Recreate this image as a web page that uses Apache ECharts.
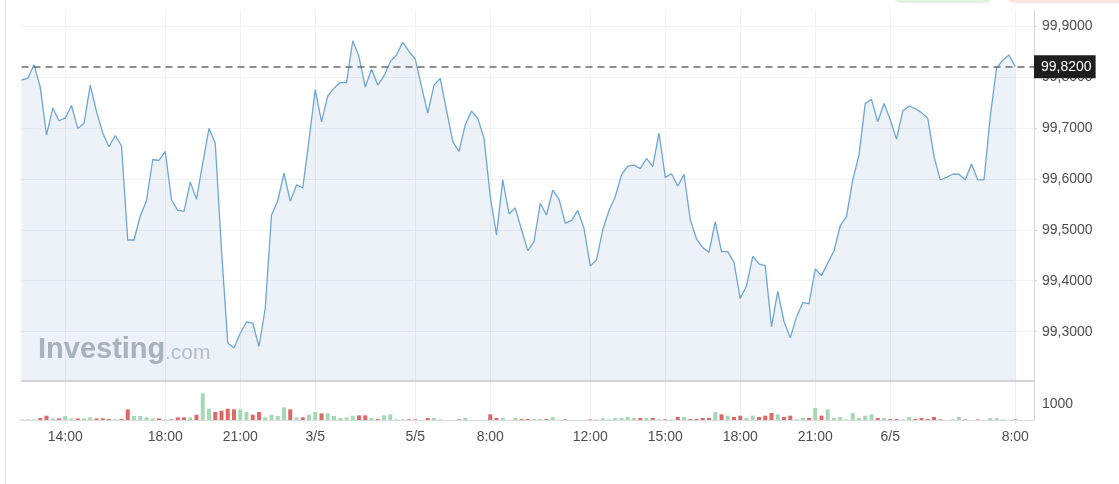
<!DOCTYPE html>
<html><head><meta charset="utf-8">
<script src="https://cdn.jsdelivr.net/npm/echarts@6/dist/echarts.min.js"></script>
<style>html,body{margin:0;padding:0;background:#fff}#c{width:1119px;height:484px}</style>
</head><body><div id="c"></div>
<script>
// ---- data ----
const price = [
99.794,99.797,99.824,99.780,99.686,99.739,99.714,99.719,99.744,99.699,
99.709,99.784,99.732,99.690,99.663,99.685,99.665,99.480,99.480,99.527,
99.557,99.638,99.636,99.654,99.559,99.538,99.536,99.594,99.560,99.631,
99.699,99.670,99.460,99.278,99.268,99.297,99.319,99.317,99.271,99.346,
99.529,99.557,99.611,99.556,99.588,99.582,99.676,99.775,99.712,99.763,
99.778,99.789,99.789,99.871,99.840,99.780,99.815,99.784,99.802,99.830,
99.843,99.868,99.850,99.835,99.781,99.729,99.784,99.797,99.735,99.673,
99.654,99.706,99.733,99.719,99.680,99.565,99.490,99.598,99.531,99.543,
99.500,99.459,99.477,99.552,99.529,99.578,99.560,99.513,99.518,99.538,
99.503,99.429,99.441,99.500,99.538,99.565,99.608,99.625,99.627,99.620,
99.640,99.624,99.690,99.603,99.610,99.586,99.609,99.520,99.482,99.465,
99.456,99.516,99.457,99.457,99.436,99.365,99.390,99.448,99.433,99.429,
99.310,99.379,99.320,99.288,99.329,99.357,99.355,99.423,99.410,99.435,
99.459,99.508,99.526,99.598,99.647,99.748,99.756,99.712,99.748,99.716,
99.678,99.733,99.743,99.738,99.730,99.719,99.644,99.598,99.603,99.609,
99.609,99.598,99.629,99.598,99.598,99.722,99.817,99.833,99.843,99.820
];
const volume = [
40,40,40,125,270,100,100,250,100,100,
100,165,100,100,60,40,60,665,250,250,
165,100,100,40,40,165,165,165,330,1665,
705,500,580,705,665,665,500,330,500,165,
330,250,790,665,165,165,330,500,415,415,
250,125,165,270,290,290,125,60,290,355,
40,40,40,40,0,125,125,40,0,0,
40,125,0,0,0,355,125,125,0,125,
60,60,60,60,60,190,0,40,0,0,
0,40,40,100,40,125,125,190,125,125,
125,125,40,40,40,190,190,60,60,125,
125,500,355,270,190,270,125,270,190,270,
435,355,190,270,40,125,125,750,270,665,
125,190,40,435,125,270,355,125,125,60,
60,40,190,60,125,60,190,40,0,40,
190,40,0,40,0,125,125,40,0,40
];
const volUp = [
1,1,1,0,0,1,0,1,1,0,
1,1,0,0,0,1,0,0,1,1,
1,1,0,1,0,0,0,1,0,1,
1,0,0,0,0,1,1,0,0,1,
1,1,1,0,1,0,1,1,0,1,
1,1,1,1,0,0,1,0,1,1,
1,1,0,0,1,0,1,1,1,1,
0,1,1,1,1,0,0,1,1,1,
0,0,1,1,0,1,1,0,1,1,
1,0,1,1,1,1,1,1,1,0,
1,0,1,0,1,0,1,0,0,0,
0,1,0,1,0,0,1,1,0,0,
0,1,0,0,1,1,0,1,0,1,
1,1,1,1,1,1,1,0,1,0,
0,1,1,0,0,0,0,0,1,1,
1,0,1,0,1,1,1,1,1,0
];
const tickIndex = [7,23,35,47,63,75,91,103,115,127,139,159];
const tickText = ['14:00','18:00','21:00','3/5','5/5','8:00','12:00','15:00','18:00','21:00','6/5','8:00'];
const lastPrice = 99.82;
const categoryCount = 163;

// ---- chart ----
const categories = Array.from({length: categoryCount}, (_, i) => String(i));
const tickMap = {};
tickIndex.forEach((k, j) => { tickMap[k] = tickText[j]; });
const isTick = (i) => tickMap[i] !== undefined;
const fmt = v => Number(v).toFixed(4).replace('.', ',');
const FONT = 'Liberation Sans, Arial, sans-serif';
const LABEL = '#4d4d4d';

const chart = echarts.init(document.getElementById('c'), null, {renderer: 'canvas'});
chart.setOption({
  animation: false,
  backgroundColor: '#ffffff',
  grid: [
    {left: 21.5, width: 1012.5, top: 10, height: 370.5},
    {left: 21.5, width: 1012.5, top: 381, height: 39}
  ],
  xAxis: [
    {type: 'category', gridIndex: 0, data: categories, boundaryGap: false,
     axisLine: {show: true, lineStyle: {color: '#c8c8c8', width: 1.5}},
     axisTick: {show: false}, axisLabel: {show: false},
     splitLine: {show: true, interval: (i) => isTick(i), lineStyle: {color: '#f0f1f3', width: 1}}},
    {type: 'category', gridIndex: 1, data: categories, boundaryGap: false,
     axisLine: {show: true, lineStyle: {color: '#dadde0', width: 1}},
     axisTick: {show: true, interval: (i) => isTick(i), length: 4, lineStyle: {color: '#e6e6e6'}},
     axisLabel: {interval: (i) => isTick(i), formatter: (v, i) => tickMap[i] || '',
                 color: LABEL, fontSize: 14, fontFamily: FONT, margin: 10},
     splitLine: {show: true, interval: (i) => isTick(i), lineStyle: {color: '#f0f1f3', width: 1}}}
  ],
  yAxis: [
    {type: 'value', gridIndex: 0, position: 'right', scale: true,
     min: 99.2042, max: 99.9314, splitNumber: 7,
     axisLine: {show: true, lineStyle: {color: '#d8d8d8'}},
     axisTick: {show: true, length: 3, lineStyle: {color: '#d0d0d0'}},
     axisLabel: {formatter: fmt, showMinLabel: false, showMaxLabel: false,
                 color: LABEL, fontSize: 14, fontFamily: FONT, margin: 8},
     splitLine: {show: true, showMinLine: false, showMaxLine: false, lineStyle: {color: '#f1f2f4'}}},
    {type: 'value', gridIndex: 1, position: 'right', min: 0, max: 2440, interval: 1000,
     axisLine: {show: true, lineStyle: {color: '#d8d8d8'}},
     axisTick: {show: false},
     axisLabel: {formatter: v => (v === 1000 ? '1000' : ''), color: LABEL, fontSize: 14, fontFamily: FONT, margin: 8},
     splitLine: {show: false}}
  ],
  series: [
    {type: 'line', xAxisIndex: 0, yAxisIndex: 0, data: price, symbol: 'none',
     lineStyle: {color: '#6ea6d6', width: 1.3},
     areaStyle: {color: 'rgba(120,165,200,0.2)', origin: 'start'},
     markLine: {silent: true, symbol: ['none', 'none'],
       data: [{yAxis: lastPrice}],
       lineStyle: {type: [7, 5], color: '#6b6b6b', width: 1.5},
       label: {show: true, position: 'end', distance: 0, formatter: () => fmt(lastPrice),
               color: '#ffffff', backgroundColor: '#1e1e1e', padding: [4, 4, 4, 7],
               fontSize: 14, fontFamily: FONT, lineHeight: 15}}},
    {type: 'bar', xAxisIndex: 1, yAxisIndex: 1, barWidth: 4, clip: false,
     data: volume.map((v, i) => ({value: v, itemStyle: {color: volUp[i] ? '#a6d8b5' : '#e06767'}}))}
  ],
  graphic: [
    {type: 'line', z: 10, shape: {x1: 5.5, y1: 0, x2: 5.5, y2: 484}, style: {stroke: '#e2e2e2', lineWidth: 1}},
    {type: 'rect', z: 10, shape: {x: 893, y: -20, width: 100, height: 23, r: 8}, style: {fill: '#e2f3de'}},
    {type: 'rect', z: 10, shape: {x: 1007, y: -20, width: 130, height: 23, r: 8}, style: {fill: '#fde3e3'}},
    {type: 'text', z: 3, x: 38, y: 350, style: {text: 'Investing', fontSize: 29, fontWeight: 'bold', fontFamily: FONT, fill: '#b1b4b7', verticalAlign: 'middle'}},
    {type: 'text', z: 3, x: 165, y: 353, style: {text: '.com', fontSize: 21, fontFamily: FONT, fill: '#c0c3c6', verticalAlign: 'middle'}}
  ]
});
</script></body></html>
